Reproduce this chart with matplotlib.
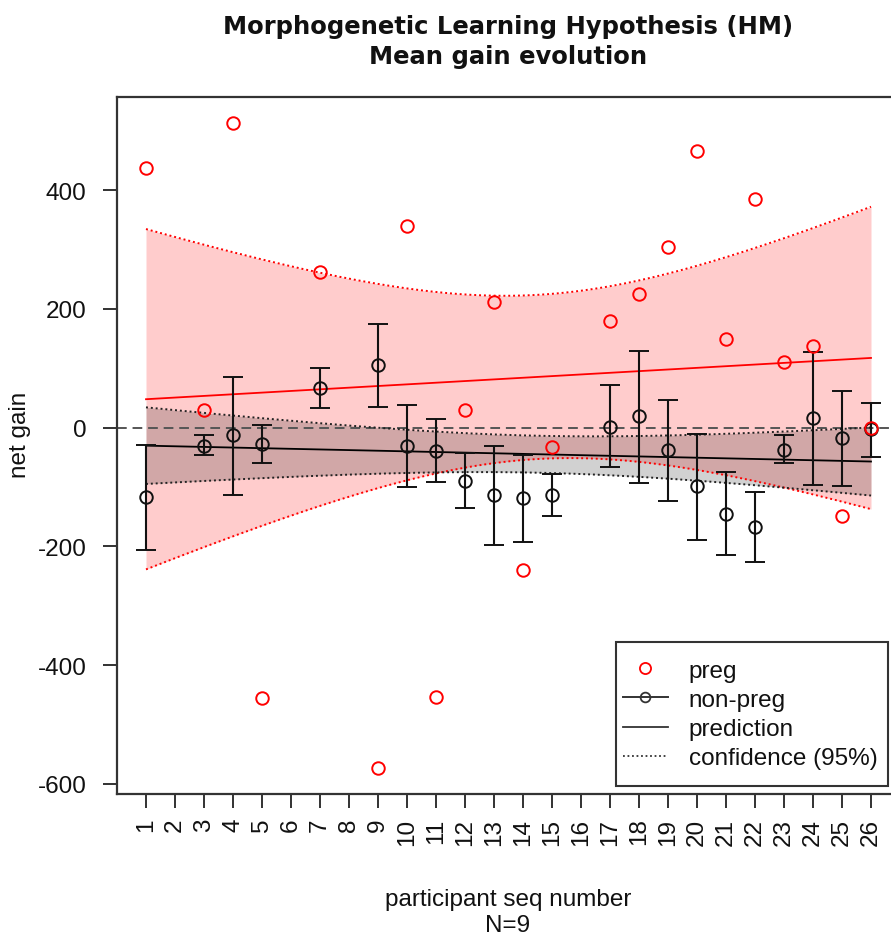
import numpy as np
import matplotlib
matplotlib.use("Agg")
import matplotlib.pyplot as plt
from matplotlib.lines import Line2D
from matplotlib.patches import Rectangle

plt.rcParams['font.family'] = ['Liberation Sans', 'DejaVu Sans']
plt.rcParams['axes.unicode_minus'] = False

# ---------------- data ----------------
participants = [1, 3, 4, 5, 7, 9, 10, 11, 12, 13, 14, 15, 17, 18, 19, 20, 21, 22, 23, 24, 25, 26]
preg_gain = [438, 29, 513, -455, 263, -573, 339, -454, 29, 212, -240, -32,
             180, 226, 304, 466, 150, 385, 111, 138, -148, 0]
nonpreg_mean = [-116, -30, -13, -27, 67, 105, -30, -39, -89, -113, -118, -114,
                2, 19, -37, -99, -145, -167, -37, 17, -17, -2]
nonpreg_upper = [-29, -12, 86, 5, 100, 174, 39, 15, -42, -30, -46, -78,
                 72, 130, 47, -10, -74, -108, -13, 128, 62, 42]
nonpreg_lower = [-206, -46, -113, -59, 34, 35, -100, -91, -135, -197, -192, -148,
                 -67, -94, -123, -189, -214, -226, -59, -96, -98, -49]
tick_labels = [str(i) for i in range(1, 27)]
T_975_DF20 = 2.086  # t quantile for 95% CI, n-2 = 20

x = np.array(participants, dtype=float)


def fit_ci(xv, yv, xg, t):
    yv = np.asarray(yv, dtype=float)
    n = len(xv)
    b, a = np.polyfit(xv, yv, 1)
    res = yv - (a + b * xv)
    s = np.sqrt(np.sum(res ** 2) / (n - 2))
    sxx = np.sum((xv - xv.mean()) ** 2)
    se = s * np.sqrt(1.0 / n + (xg - xv.mean()) ** 2 / sxx)
    pred = a + b * xg
    return pred, pred - t * se, pred + t * se


xg = np.linspace(min(participants), max(participants), 200)
p_pred, p_lo, p_hi = fit_ci(x, preg_gain, xg, T_975_DF20)
n_pred, n_lo, n_hi = fit_ci(x, nonpreg_mean, xg, T_975_DF20)

# ---------------- figure ----------------
W, H = 891, 937
fig = plt.figure(figsize=(W / 100, H / 100), dpi=100)
ax = fig.add_axes([117 / W, 1 - 795 / H, (900 - 117) / W, (795 - 98) / H])
ax.set_xlim(0, 27)
ax.set_ylim(-617, 557)

# bands
ax.fill_between(xg, p_lo, p_hi, color='red', alpha=0.2, lw=0, zorder=1)
ax.fill_between(xg, n_lo, n_hi, color='black', alpha=0.18, lw=0, zorder=1.1)

# zero line
ax.axhline(0, color='#555555', lw=1.4, ls=(0, (5, 3)), zorder=2)

# preg fit
ax.plot(xg, p_pred, color='red', lw=1.3, zorder=3)
ax.plot(xg, p_lo, color='red', lw=1.4, ls=(0, (1, 1.5)), zorder=3)
ax.plot(xg, p_hi, color='red', lw=1.4, ls=(0, (1, 1.5)), zorder=3)

# non-preg fit
ax.plot(xg, n_pred, color='black', lw=1.3, zorder=3)
ax.plot(xg, n_lo, color='#222222', lw=1.4, ls=(0, (1, 1.5)), zorder=3)
ax.plot(xg, n_hi, color='#222222', lw=1.4, ls=(0, (1, 1.5)), zorder=3)

# non-preg means with error bars
m = np.array(nonpreg_mean, dtype=float)
yerr = np.vstack([m - np.array(nonpreg_lower), np.array(nonpreg_upper) - m])
ax.errorbar(x, m, yerr=yerr, fmt='o', color='#111111', mfc='none', mec='#111111',
            ms=9, mew=1.4, elinewidth=1.5, capsize=7.5, capthick=1.5, zorder=4)

# preg points
ax.plot(x, preg_gain, 'o', mfc='none', mec='red', ms=9, mew=1.4, ls='none', zorder=5)

# axes styling
FS = 17.5
for sp in ax.spines.values():
    sp.set_color('#333333')
    sp.set_linewidth(1.6)
ax.set_xticks(range(1, 27))
ax.set_xticklabels(tick_labels, rotation=90)
ax.set_yticks([-600, -400, -200, 0, 200, 400])
ax.tick_params(axis='x', length=10, width=1.3, colors='#222222', pad=7, labelsize=FS, labelcolor='#111111')
ax.tick_params(axis='y', length=10, width=1.3, colors='#222222', pad=12, labelsize=FS, labelcolor='#111111')

fig.text(20 / W, 1 - 435 / H, 'net gain', rotation=90, ha='center', va='center', fontsize=FS, color='#111111')
fig.text(508 / W, 1 - 900 / H, 'participant seq number', ha='center', va='center', fontsize=FS, color='#111111')
fig.text(508 / W, 1 - 926 / H, 'N=9', ha='center', va='center', fontsize=FS, color='#111111')

fig.text(508 / W, 1 - 42 / H, 'Morphogenetic Learning Hypothesis (HM)\nMean gain evolution',
         ha='center', va='center', fontsize=17.5, fontweight='bold', linespacing=1.36,
         color='#111111', family=['DejaVu Sans'])

# legend
fig.patches.append(Rectangle((616 / W, 1 - 787 / H), (888 - 616) / W, (787 - 643) / H,
                             transform=fig.transFigure, fill=True, facecolor='white',
                             edgecolor='#333333', lw=1.5, zorder=6))
handles = [
    Line2D([], [], ls='none', marker='o', mfc='none', mec='red', ms=8, mew=1.3),
    Line2D([], [], color='#333333', lw=1.4, marker='o', mfc='none', mec='#333333', ms=7, mew=1.3),
    Line2D([], [], color='#333333', lw=1.3),
    Line2D([], [], color='#333333', lw=1.3, ls=(0, (1, 1.5))),
]
labels = ['preg', 'non-preg', 'prediction', 'confidence (95%)']
leg = fig.legend(handles, labels, loc='center left', bbox_to_anchor=(623 / W, 1 - 715.5 / H),
                 fontsize=FS, frameon=False, handlelength=1.85, handletextpad=0.85,
                 labelspacing=0.3, borderpad=0, borderaxespad=0)
leg.set_zorder(7)
for t in leg.get_texts():
    t.set_color('#111111')

fig.savefig('out.png', dpi=100)
